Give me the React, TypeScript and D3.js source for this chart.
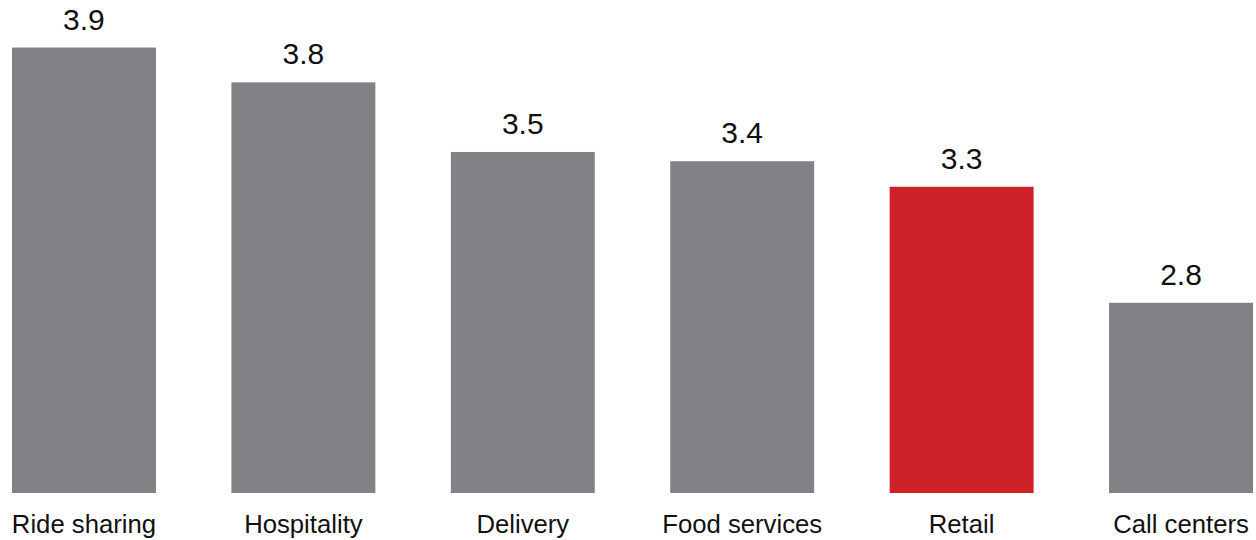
import React from "react";
import * as d3 from "d3";

const categories = ["Ride sharing", "Hospitality", "Delivery", "Food services", "Retail", "Call centers"];
const values = [3.92, 3.77, 3.47, 3.43, 3.32, 2.82];
const highlight = ["Retail"];

const W = 1256;
const H = 540;

export default function App() {
  const x = d3.scaleBand<string>().domain(categories).range([12, 1253]).paddingInner(0.344).paddingOuter(0);
  const y = d3.scaleLinear().domain([2, 4]).range([493, 29]);
  const fmt = d3.format(".1f");
  return (
    <svg width={W} height={H} style={{ position: "absolute", left: 0, top: 0, background: "#fff" }}
      fontFamily="'Liberation Sans', Arial, Helvetica, sans-serif">
      {categories.map((c, i) => {
        const bx = x(c) as number;
        const bw = x.bandwidth();
        const top = y(values[i]);
        const cx = bx + bw / 2;
        return (
          <g key={c}>
            <rect x={bx} y={top} width={bw} height={y(2) - top}
              fill={highlight.includes(c) ? "#cd2027" : "#808285"} />
            <text x={cx} y={top - 18} textAnchor="middle" fontSize={30} fill="#111">{fmt(values[i])}</text>
            <text x={cx} y={533} textAnchor="middle" fontSize={25.7} fill="#111">{c}</text>
          </g>
        );
      })}
    </svg>
  );
}
